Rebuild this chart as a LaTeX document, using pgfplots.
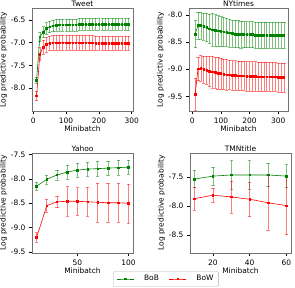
\documentclass[border=0pt]{standalone}
\usepackage{fontspec}
\setmainfont{DejaVu Sans}
\usepackage{pgfplots}
\pgfplotsset{compat=1.18}
\definecolor{mgreen}{rgb}{0,0.5,0}
\definecolor{mred}{rgb}{1,0,0}
\pgfplotsset{
  every axis/.append style={
    scale only axis, anchor=south west,
    font=\fontsize{7.5}{9}\selectfont,
    axis line style={draw=black!55, line width=0.9pt},
    tick align=outside, xtick pos=bottom, ytick pos=left,
    major tick length=3bp,
    tick style={black, line width=0.5pt},
    /pgf/number format/assume math mode=true,
    yticklabel style={/pgf/number format/fixed, /pgf/number format/fixed zerofill, /pgf/number format/precision=1},
    xticklabel style={/pgf/number format/fixed},
    xlabel style={yshift=4bp},
    ylabel style={yshift=-3bp},
    xlabel={Minibatch}, ylabel={Log predictive probability},
    scaled ticks=false,
  },
  every axis title/.style={at={(0.5,1)}, anchor=base, yshift=1.2bp, inner sep=0pt},
  ser/.style={color=#1, mark=square*, mark size=0.8pt, line width=0.6pt,
    error bars/.cd, y dir=both, y explicit,
    error bar style={color=#1, opacity=0.5, line width=0.7pt},
    error mark options={rotate=90, mark size=1.6pt, color=#1, opacity=0.5}},
}
\begin{document}
\begin{tikzpicture}
\useasboundingbox (0,0) rectangle (295bp,288bp);
% Tweet
\begin{axis}[at={(32bp,177bp)}, width=101bp, height=103bp, title={Tweet},
  xmin=-4, xmax=304, ymin=-8.5, ymax=-6.24,
  xtick={0,100,200,300}, ytick={-8,-7.5,-7,-6.5}]
\addplot[ser=mgreen] table[x=x,y=y,y error=e] {
x y e
10 -7.82 0.07
20 -6.87 0.10
30 -6.77 0.12
40 -6.69 0.13
50 -6.65 0.13
60 -6.63 0.13
70 -6.62 0.13
80 -6.61 0.13
90 -6.61 0.13
100 -6.61 0.13
110 -6.61 0.13
120 -6.61 0.13
130 -6.61 0.13
140 -6.60 0.13
150 -6.60 0.13
160 -6.60 0.13
170 -6.60 0.13
180 -6.60 0.13
190 -6.60 0.13
200 -6.60 0.13
210 -6.60 0.13
220 -6.60 0.13
230 -6.60 0.13
240 -6.60 0.13
250 -6.60 0.13
260 -6.60 0.13
270 -6.60 0.13
280 -6.60 0.13
290 -6.60 0.13
};
\addplot[ser=mred] table[x=x,y=y,y error=e] {
x y e
10 -8.17 0.10
20 -7.25 0.14
30 -7.10 0.16
40 -7.04 0.16
50 -7.01 0.16
60 -7.00 0.16
70 -7.00 0.16
80 -7.00 0.16
90 -7.00 0.16
100 -7.00 0.16
110 -7.00 0.16
120 -7.00 0.16
130 -7.00 0.16
140 -7.00 0.16
150 -7.00 0.16
160 -7.00 0.16
170 -7.00 0.16
180 -7.00 0.16
190 -7.01 0.16
200 -7.01 0.16
210 -7.01 0.16
220 -7.01 0.16
230 -7.01 0.16
240 -7.01 0.16
250 -7.01 0.16
260 -7.01 0.16
270 -7.01 0.16
280 -7.01 0.16
290 -7.01 0.16
};
\end{axis}
% NYtimes
\begin{axis}[at={(189bp,177bp)}, width=99bp, height=103bp, title={NYtimes},
  xmin=-11.5, xmax=334, ymin=-9.77, ymax=-7.87,
  xtick={0,100,200,300}, ytick={-9.5,-9,-8.5,-8}]
\addplot[ser=mgreen] table[x=x,y=y,y error=e] {
x y e
10 -8.35 0.25
20 -8.19 0.25
30 -8.19 0.25
40 -8.21 0.25
50 -8.23 0.26
60 -8.25 0.27
70 -8.27 0.30
80 -8.28 0.29
90 -8.29 0.28
100 -8.30 0.27
110 -8.31 0.27
120 -8.32 0.26
130 -8.33 0.26
140 -8.34 0.25
150 -8.35 0.25
160 -8.35 0.25
170 -8.36 0.25
180 -8.36 0.24
190 -8.36 0.24
200 -8.36 0.24
210 -8.36 0.24
220 -8.37 0.24
230 -8.37 0.24
240 -8.37 0.24
250 -8.37 0.24
260 -8.37 0.24
270 -8.37 0.24
280 -8.37 0.24
290 -8.37 0.24
300 -8.37 0.24
310 -8.37 0.24
320 -8.37 0.24
};
\addplot[ser=mred] table[x=x,y=y,y error=e] {
x y e
10 -9.46 0.30
20 -8.99 0.22
30 -8.98 0.24
40 -9.00 0.25
50 -9.02 0.26
60 -9.04 0.28
70 -9.05 0.30
80 -9.06 0.29
90 -9.07 0.29
100 -9.08 0.28
110 -9.09 0.28
120 -9.10 0.28
130 -9.10 0.27
140 -9.11 0.27
150 -9.11 0.27
160 -9.12 0.27
170 -9.12 0.27
180 -9.12 0.27
190 -9.13 0.27
200 -9.13 0.27
210 -9.13 0.27
220 -9.13 0.27
230 -9.14 0.27
240 -9.14 0.27
250 -9.14 0.27
260 -9.14 0.27
270 -9.14 0.27
280 -9.14 0.27
290 -9.14 0.27
300 -9.15 0.27
310 -9.15 0.27
320 -9.15 0.27
};
\end{axis}
% Yahoo
\begin{axis}[at={(32bp,35bp)}, width=101bp, height=100bp, title={Yahoo},
  xmin=5.5, xmax=104.5, ymin=-9.52, ymax=-7.47,
  xtick={50,100}, ytick={-9.5,-9,-8.5,-8,-7.5},
  legend columns=2,
  legend style={at={(1.327,-0.26)}, anchor=center, draw=black!30, rounded corners=1pt,
    font=\fontsize{7.5}{9}\selectfont, column sep=8bp, inner xsep=3bp, inner ysep=2bp},
  legend image post style={opacity=1}]
\addplot[ser=mgreen] table[x=x,y=y,y error=e] {
x y e
10 -8.15 0.08
20 -8.01 0.09
30 -7.92 0.10
40 -7.86 0.15
50 -7.82 0.15
60 -7.80 0.15
70 -7.79 0.15
80 -7.78 0.15
90 -7.77 0.15
100 -7.76 0.15
};
\addlegendentry{BoB}
\addplot[ser=mred] table[x=x,y=y,y error=e] {
x y e
10 -9.20 0.10
20 -8.55 0.13
30 -8.47 0.12
40 -8.46 0.30
50 -8.46 0.28
60 -8.47 0.30
70 -8.48 0.40
80 -8.49 0.40
90 -8.49 0.40
100 -8.50 0.40
};
\addlegendentry{BoW}
\end{axis}
% TMNtitle
\begin{axis}[at={(190bp,35bp)}, width=101bp, height=100bp, title={TMNtitle},
  xmin=7.5, xmax=62.5, ymin=-8.81, ymax=-7.08,
  xtick={20,40,60}, ytick={-8.5,-8,-7.5}]
\addplot[ser=mgreen] table[x=x,y=y,y error=e] {
x y e
10 -7.53 0.15
20 -7.48 0.16
30 -7.46 0.25
40 -7.46 0.25
50 -7.46 0.20
60 -7.48 0.20
};
\addplot[ser=mred] table[x=x,y=y,y error=e] {
x y e
10 -7.87 0.20
20 -7.81 0.12
30 -7.84 0.28
40 -7.88 0.30
50 -7.94 0.48
60 -7.99 0.50
};
\end{axis}
\end{tikzpicture}
\end{document}
